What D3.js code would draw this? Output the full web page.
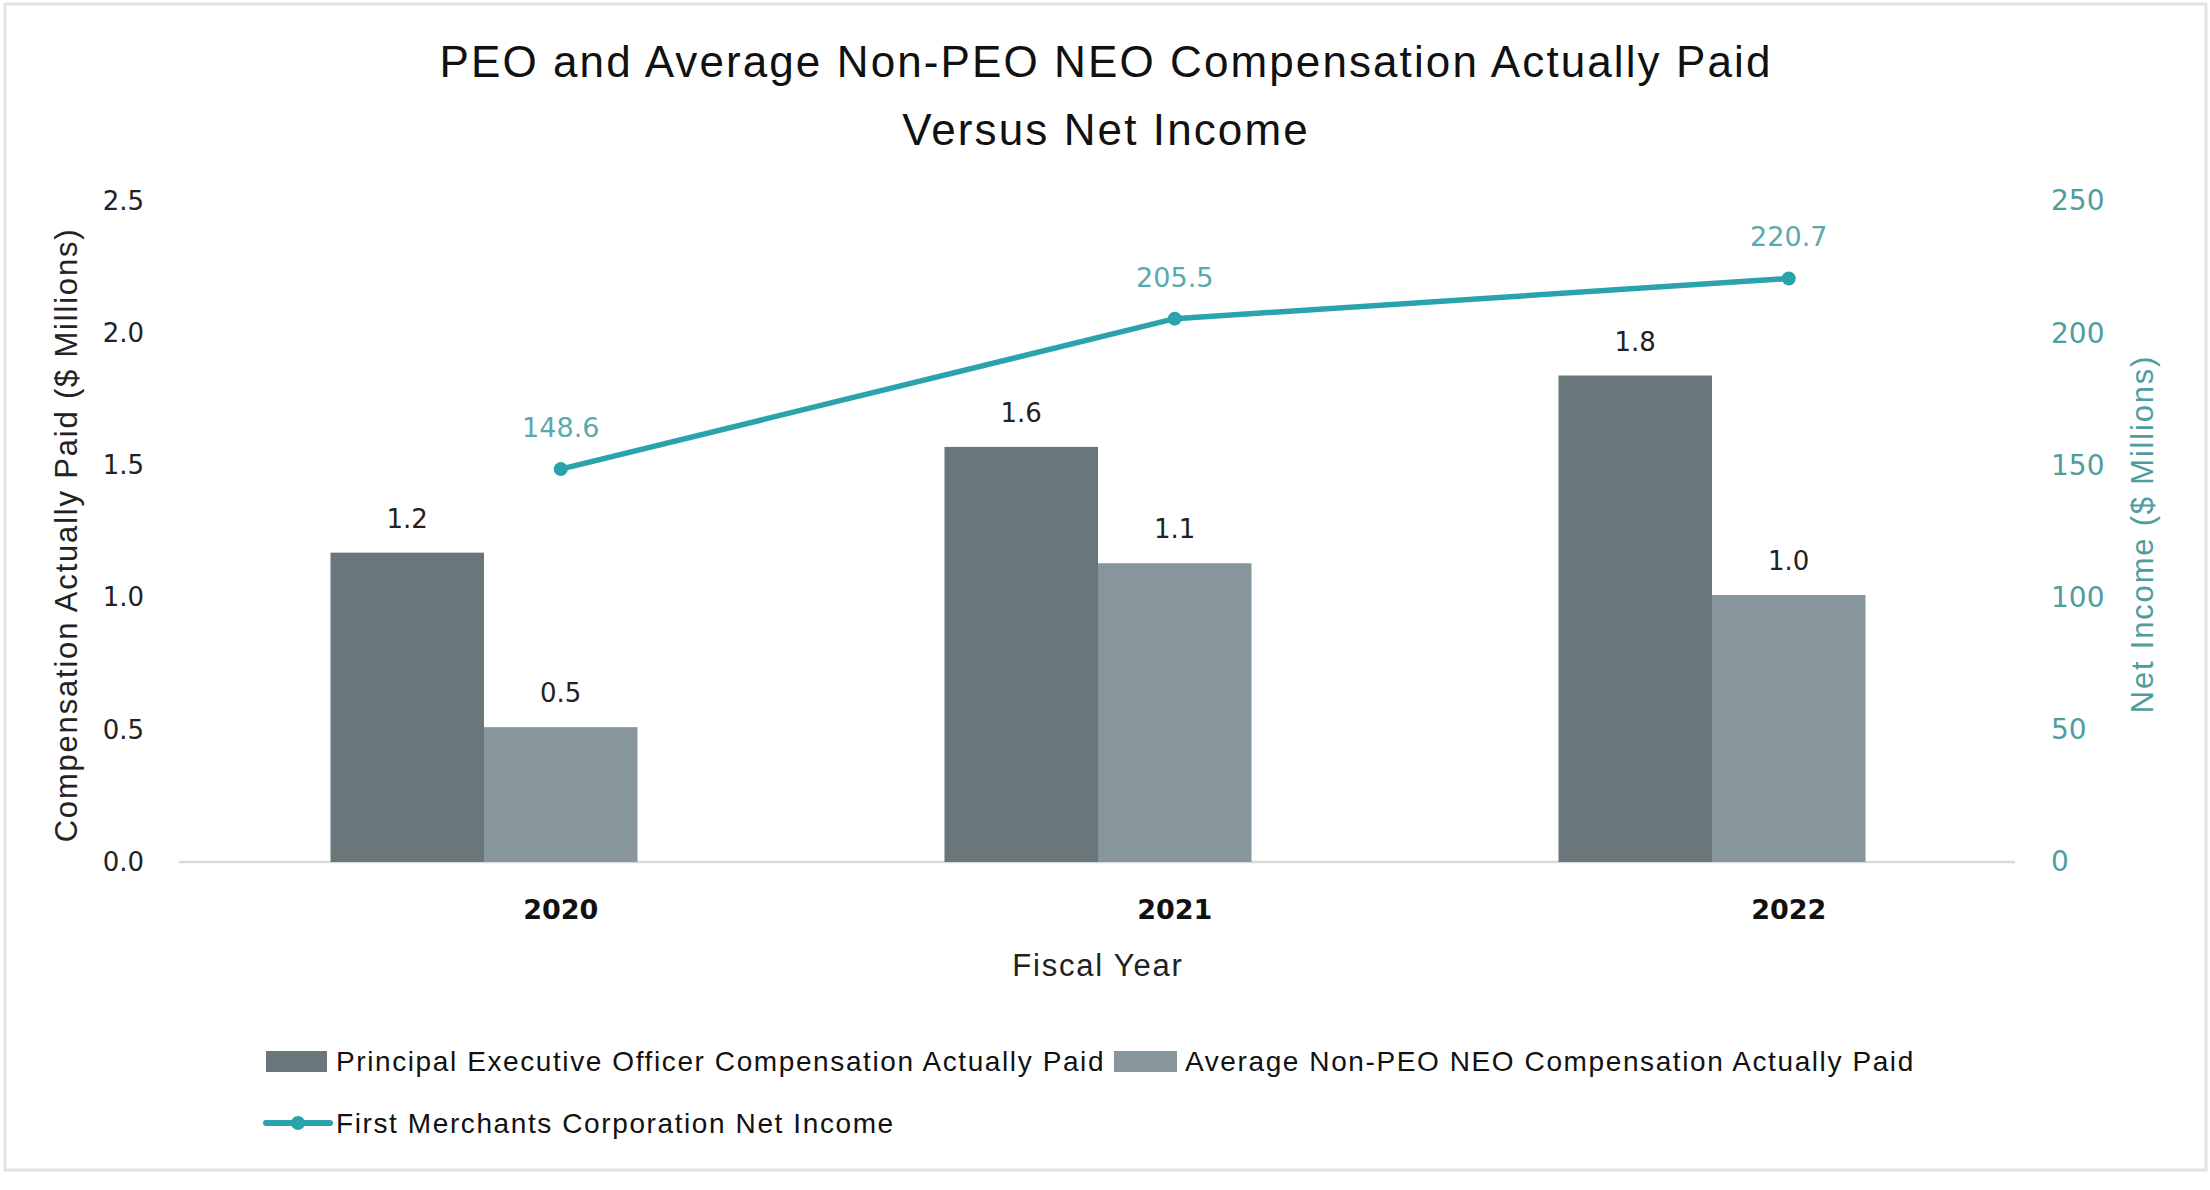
<!DOCTYPE html>
<html>
<head>
<meta charset="utf-8">
<script src="https://cdn.jsdelivr.net/npm/d3@7"></script>
<style>
  body { margin: 0; background: #fff; }
  svg { display: block; }
</style>
</head>
<body>
<div id="chart"></div>
<script>
const years = ["2020", "2021", "2022"];
const peoPaid = [1.17, 1.57, 1.84];
const neoPaid = [0.51, 1.13, 1.01];
const netIncome = [148.6, 205.5, 220.7];
const leftTicks = [0, 0.5, 1.0, 1.5, 2.0, 2.5];
const rightTicks = [0, 50, 100, 150, 200, 250];
const seriesNames = ["Principal Executive Officer Compensation Actually Paid",
  "Average Non-PEO NEO Compensation Actually Paid",
  "First Merchants Corporation Net Income"];

const W = 2210, H = 1190;
const margin = {top: 201, right: 195, bottom: 328, left: 179};
const colPeo = "#69777b", colNeo = "#87969a", colLine = "#2aa3ad", colTeal = "#4f9d9f";
const sans = "'Liberation Sans', Arial, sans-serif";
const wide = "'DejaVu Sans', Verdana, sans-serif";

const svg = d3.select("#chart").append("svg")
  .attr("width", W).attr("height", H);

// frame
svg.append("rect")
  .attr("x", 5).attr("y", 4).attr("width", W - 9).attr("height", 1166)
  .attr("fill", "#fff").attr("stroke", "#e2e2e2").attr("stroke-width", 3);

const x0 = margin.left, x1 = W - margin.right;
const y0 = H - margin.bottom, y1 = margin.top;

var x = d3.scaleBand().domain(years).range([x0 - 2, x1 + 4]).paddingInner(0.5).paddingOuter(0.25);
var xs = d3.scaleBand().domain([0, 1]).range([0, x.bandwidth()]);
var y = d3.scaleLinear().domain([0, 2.5]).range([y0, y1]);
var y2 = d3.scaleLinear().domain([0, 250]).range([y0, y1]);
// categories (and the line) sit on the centre of the second bar
const catX = d => x(d) + xs(1) + xs.bandwidth() / 2;

// title
svg.append("text").attr("x", 1106).attr("y", 77).attr("text-anchor", "middle")
  .style("font-family", sans).style("font-size", "44px").style("letter-spacing", "2.1px").attr("fill", "#111")
  .text("PEO and Average Non-PEO NEO Compensation Actually Paid");
svg.append("text").attr("x", 1106).attr("y", 145).attr("text-anchor", "middle")
  .style("font-family", sans).style("font-size", "44px").style("letter-spacing", "2.1px").attr("fill", "#111")
  .text("Versus Net Income");

// baseline
svg.append("line").attr("x1", x0).attr("x2", x1).attr("y1", y0).attr("y2", y0)
  .attr("stroke", "#d9d9d9").attr("stroke-width", 2.5);

// left axis
const ax = svg.append("g").attr("transform", "translate(" + (x0 - 35) + ",0)")
  .call(d3.axisLeft(y).tickValues(leftTicks).tickFormat(d3.format(".1f")).tickSize(0).tickPadding(0));
ax.select(".domain").remove();
ax.selectAll("text").style("font-family", wide).style("font-size", "26px").attr("fill", "#222");

// right axis
const ax2 = svg.append("g").attr("transform", "translate(" + (x1 + 36) + ",0)")
  .call(d3.axisRight(y2).tickValues(rightTicks).tickSize(0).tickPadding(0));
ax2.select(".domain").remove();
ax2.selectAll("text").style("font-family", wide).style("font-size", "28px").attr("fill", colTeal);

// x axis labels
const axx = svg.append("g").attr("transform", "translate(0," + y0 + ")")
  .call(d3.axisBottom(x).tickSize(0).tickPadding(0));
axx.select(".domain").remove();
axx.selectAll(".tick").attr("transform", d => "translate(" + catX(d) + ",0)");
axx.selectAll("text").attr("dy", "0").attr("y", 57)
  .style("font-family", wide).style("font-weight", "bold").style("font-size", "27px").attr("fill", "#111");

// axis titles
svg.append("text").attr("x", 1098).attr("y", 976).attr("text-anchor", "middle")
  .style("font-family", sans).style("font-size", "31px").style("letter-spacing", "1.8px").attr("fill", "#222").text("Fiscal Year");
svg.append("text").attr("transform", "translate(77,535) rotate(-90)").attr("text-anchor", "middle")
  .style("font-family", sans).style("font-size", "31px").style("letter-spacing", "1.8px").attr("fill", "#222")
  .text("Compensation Actually Paid ($ Millions)");
svg.append("text").attr("transform", "translate(2153,534) rotate(-90)").attr("text-anchor", "middle")
  .style("font-family", sans).style("font-size", "31px").style("letter-spacing", "1.8px").attr("fill", colTeal)
  .text("Net Income ($ Millions)");

// bars
const bars = [peoPaid, neoPaid];
const cols = [colPeo, colNeo];
bars.forEach(function(vals, i) {
  svg.selectAll(".bar" + i).data(years).enter().append("rect")
    .attr("class", "bar" + i)
    .attr("x", d => x(d) + xs(i))
    .attr("width", xs.bandwidth())
    .attr("y", (d, j) => y(vals[j]))
    .attr("height", (d, j) => y0 - y(vals[j]))
    .attr("fill", cols[i]);
  svg.selectAll(".blab" + i).data(years).enter().append("text")
    .attr("x", d => x(d) + xs(i) + xs.bandwidth() / 2)
    .attr("y", (d, j) => y(vals[j]) - 25)
    .attr("text-anchor", "middle")
    .style("font-family", wide).style("font-size", "26px").attr("fill", "#222")
    .text((d, j) => d3.format(".1f")(vals[j]));
});

// net income line
var valueline = d3.line()
  .x((d, j) => catX(years[j]))
  .y(d => y2(d));
svg.append("path").datum(netIncome).attr("d", valueline)
  .attr("fill", "none").attr("stroke", colLine).attr("stroke-width", 5.5).attr("stroke-linecap", "round");
svg.selectAll(".pt").data(netIncome).enter().append("circle")
  .attr("cx", (d, j) => catX(years[j])).attr("cy", d => y2(d)).attr("r", 7)
  .attr("fill", colLine);
svg.selectAll(".plab").data(netIncome).enter().append("text")
  .attr("x", (d, j) => catX(years[j])).attr("y", d => y2(d) - 32)
  .attr("text-anchor", "middle")
  .style("font-family", wide).style("font-size", "27px").attr("fill", "#5aa9ad")
  .text(d => d.toFixed(1));

// legend
const leg = svg.append("g").style("font-family", sans).style("font-size", "28px").style("letter-spacing", "1.6px");
leg.append("rect").attr("x", 266).attr("y", 1051).attr("width", 61).attr("height", 21).attr("fill", colPeo);
leg.append("text").attr("x", 336).attr("y", 1071).attr("fill", "#111").text(seriesNames[0]);
leg.append("rect").attr("x", 1114).attr("y", 1051).attr("width", 63).attr("height", 21).attr("fill", colNeo);
leg.append("text").attr("x", 1185).attr("y", 1071).attr("fill", "#111").text(seriesNames[1]);
leg.append("line").attr("x1", 266).attr("x2", 330).attr("y1", 1123).attr("y2", 1123)
  .attr("stroke", colLine).attr("stroke-width", 6).attr("stroke-linecap", "round");
leg.append("circle").attr("cx", 298).attr("cy", 1123).attr("r", 7).attr("fill", colLine);
leg.append("text").attr("x", 336).attr("y", 1133).attr("fill", "#111").text(seriesNames[2]);
</script>
</body>
</html>
